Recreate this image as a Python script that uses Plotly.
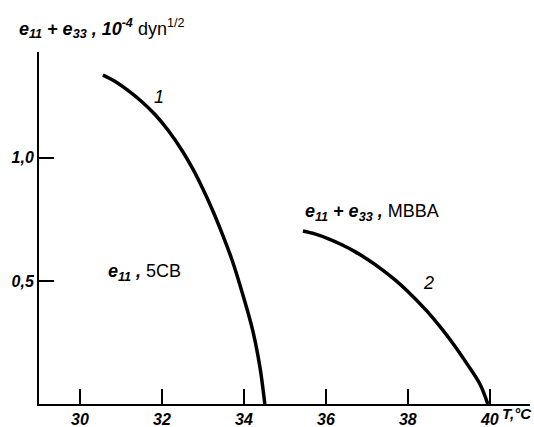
import plotly.graph_objects as go

# Curve 1: 5CB (e11)
t1 = [30.56, 30.85, 31.17, 31.51, 31.83, 32.15, 32.49, 32.76, 33.00, 33.24, 33.49, 33.71, 33.98, 34.22, 34.39, 34.51]
v1 = [1.336, 1.311, 1.274, 1.228, 1.176, 1.112, 1.030, 0.953, 0.873, 0.785, 0.683, 0.585, 0.440, 0.295, 0.150, 0.0]
# Curve 2: MBBA (e11+e33)
t2 = [35.44, 35.73, 36.05, 36.39, 36.71, 37.02, 37.37, 37.68, 38.00, 38.46, 38.78, 39.10, 39.44, 39.76, 39.95]
v2 = [0.703, 0.691, 0.672, 0.647, 0.619, 0.587, 0.546, 0.505, 0.457, 0.378, 0.315, 0.246, 0.164, 0.080, 0.0]

x_ticks = [30, 32, 34, 36, 38, 40]
x_labels = ["30", "32", "34", "36", "38", "40"]
y_ticks = [0.5, 1.0]
y_labels = ["0,5", "1,0"]

FONT = "Liberation Sans, Arial, sans-serif"

fig = go.Figure()
for t, v in [(t1, v1), (t2, v2)]:
    fig.add_trace(go.Scatter(x=t, y=v, mode="lines",
                             line=dict(color="black", width=3.5, shape="spline", smoothing=1.0),
                             showlegend=False, hoverinfo="skip"))

axis_common = dict(showgrid=False, zeroline=False, showline=True, linecolor="black", linewidth=2,
                   ticks="inside", ticklen=15, tickwidth=1.5, tickcolor="black", automargin=False,
                   tickfont=dict(family=FONT, size=16, color="black"))

fig.update_layout(
    width=534, height=427,
    margin=dict(l=39, r=4, t=52, b=23),
    plot_bgcolor="white", paper_bgcolor="white",
    xaxis=dict(range=[29, 40.98], tickvals=x_ticks,
               ticktext=["<b><i>%s</i></b>" % s for s in x_labels], **axis_common),
    yaxis=dict(range=[0, 1.43], tickvals=y_ticks,
               ticktext=["<b><i>%s</i></b>" % s for s in y_labels], **axis_common),
)

annos = [
    dict(x=17, y=28, text="<b><i>e<sub>11</sub> + e<sub>33</sub> , 10<sup>-4</sup></i></b> dyn<sup>1/2</sup>", size=18),
    dict(x=500, y=413, text="<b><i>T,°C</i></b>", size=15),
    dict(x=106, y=272, text="<b><i>e<sub>11</sub> , </i></b>5CB", size=18),
    dict(x=303, y=212, text="<b><i>e<sub>11</sub> + e<sub>33</sub> , </i></b>MBBA", size=18),
    dict(x=152, y=97, text="<i>1</i>", size=18),
    dict(x=421, y=283, text="<i>2</i>", size=18),
]
pw, ph = 534 - 39 - 4, 427 - 52 - 23
for a in annos:
    fig.add_annotation(x=(a["x"] - 39) / pw, y=(427 - 23 - a["y"]) / ph, xref="paper", yref="paper",
                       text=a["text"], showarrow=False, xanchor="left", yanchor="middle",
                       font=dict(family=FONT, size=a["size"], color="black"))

fig.write_html("out.html", config={"displayModeBar": False},
               post_script="document.body.style.margin='0';document.body.style.overflow='hidden';")
